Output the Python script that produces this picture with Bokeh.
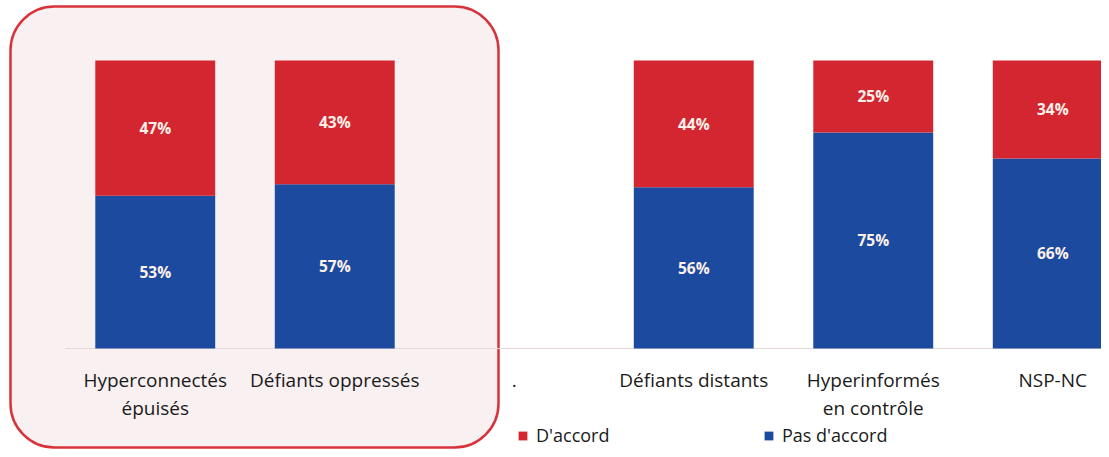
from bokeh.plotting import figure
from bokeh.models import (ColumnDataSource, Range1d, FixedTicker, LinearAxis,
                          BoxAnnotation, Legend, LegendItem)
from bokeh.embed import file_html
from bokeh.resources import INLINE
from bokeh.core.properties import value

# ---- data ----
categories = ["Hyperconnectés\népuisés", "Défiants oppressés", ".",
              "Défiants distants", "Hyperinformés\nen contrôle", "NSP-NC"]
pas_daccord = [53, 57, None, 56, 75, 66]
daccord = [47, 43, None, 44, 25, 34]
series_names = ["D'accord", "Pas d'accord"]
series_colors = ["#d42631", "#1c4a9e"]

# ---- source ----
xs, pas, acc, pas_mid, acc_mid, pas_lbl, acc_lbl = [], [], [], [], [], [], []
for i, (b, a) in enumerate(zip(pas_daccord, daccord)):
    if b is None or a is None:
        continue
    xs.append(i)
    pas.append(b / 100)
    acc.append(a / 100)
    pas_mid.append(b / 200)
    acc_mid.append(b / 100 + a / 200)
    pas_lbl.append(f"{b}%")
    acc_lbl.append(f"{a}%")
src = ColumnDataSource(dict(x=xs, pas=pas, acc=acc, pas_mid=pas_mid,
                            acc_mid=acc_mid, pas_lbl=pas_lbl, acc_lbl=acc_lbl))

W, H = 1101, 449
p = figure(width=W, height=H, output_backend="svg", toolbar_location=None,
           x_range=Range1d(-0.8621, 5.2716), y_range=Range1d(-0.3507, 1.2083),
           x_axis_location=None, y_axis_location=None, min_border=0)
p.outline_line_color = None
p.grid.visible = False
p.background_fill_color = "white"
p.border_fill_color = "white"

# highlight box around the first two groups
box = BoxAnnotation(left=-0.8064, right=1.9123, top=1.1875, bottom=-0.3438,
                    border_radius=44, fill_color="#f8f0f1", fill_alpha=1,
                    line_color="#d8333b", line_alpha=1, line_width=2.5,
                    level="underlay")
p.add_layout(box)

# baseline
p.segment(x0=[-0.5], y0=[0], x1=[5.2716], y1=[0], line_color="#e6d8d8", line_width=1.2)

rs = p.vbar_stack(["pas", "acc"], x="x", width=0.668, source=src,
                  color=[series_colors[1], series_colors[0]], line_color=None)

txt_kw = dict(text_align="center", text_baseline="middle", text_color="#fdf1ea",
              text_font=value("Open Sans"), text_font_style="bold",
              text_font_size="15.5px")
p.text(x="x", y="pas_mid", text="pas_lbl", source=src, **txt_kw)
p.text(x="x", y="acc_mid", text="acc_lbl", source=src, **txt_kw)

xaxis = LinearAxis(ticker=FixedTicker(ticks=list(range(len(categories)))),
                   major_label_overrides={i: c for i, c in enumerate(categories)},
                   fixed_location=0, axis_line_color=None,
                   major_tick_line_color=None, minor_tick_line_color=None,
                   major_label_text_font="Open Sans",
                   major_label_text_font_size="19px",
                   major_label_text_color="#1a1a1a",
                   major_label_standoff=13,
                   major_label_text_line_height=1.05)
p.add_layout(xaxis, "below")

leg_kw = dict(orientation="horizontal", padding=0, margin=0, spacing=0,
              border_line_color=None, background_fill_alpha=0,
              glyph_width=11, glyph_height=11, label_standoff=8,
              label_text_font="Open Sans", label_text_font_size="18px",
              label_text_color="#1a1a1a", label_height=18)
leg1 = Legend(items=[LegendItem(label=series_names[0], renderers=[rs[1]])],
              location=(517, 2), **leg_kw)
leg2 = Legend(items=[LegendItem(label=series_names[1], renderers=[rs[0]])],
              location=(763, 2), **leg_kw)
p.add_layout(leg1)
p.add_layout(leg2)

open("out.html", "w").write(file_html(p, INLINE))
